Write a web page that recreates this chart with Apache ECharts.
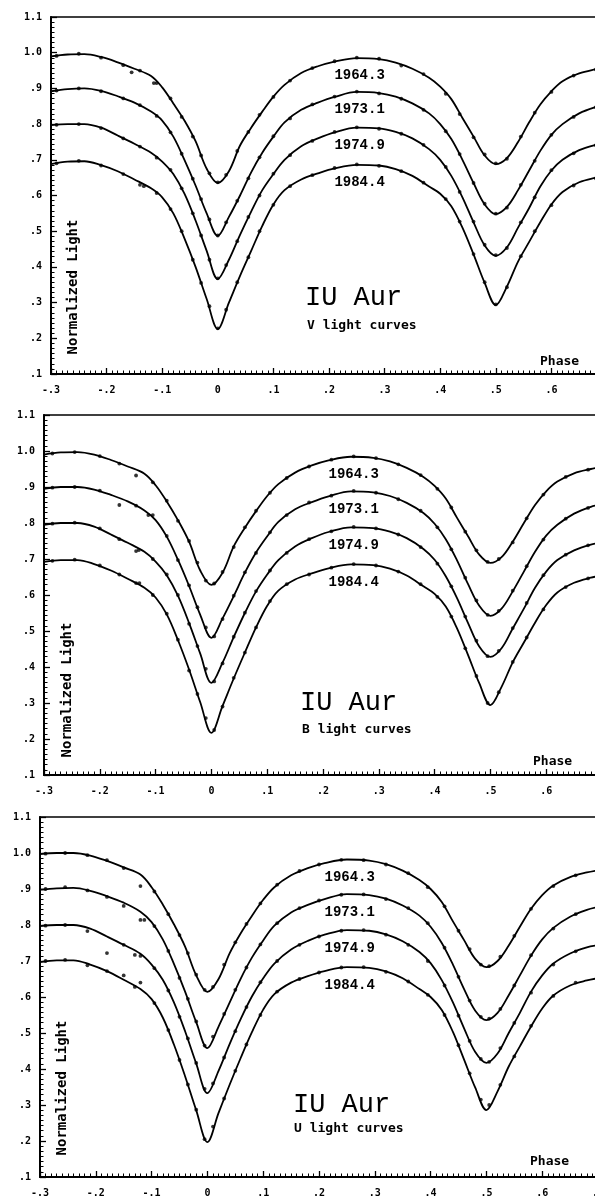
<!DOCTYPE html>
<html><head><meta charset="utf-8">
<script src="https://cdn.jsdelivr.net/npm/echarts@6/dist/echarts.min.js"></script>
<style>html,body{margin:0;padding:0;background:#fff}#c{width:595px;height:1204px}</style>
</head><body><div id="c"></div>
<script>
// ---------- data ----------
const years = ['1964.3', '1973.1', '1974.9', '1984.4'];
const bands = ['V', 'B', 'U'];
const xTickValues = [-0.3, -0.2, -0.1, 0, 0.1, 0.2, 0.3, 0.4, 0.5, 0.6, 0.7];
const yTickValues = [0.1, 0.2, 0.3, 0.4, 0.5, 0.6, 0.7, 0.8, 0.9, 1.0, 1.1];

// phases of the fitted light-curve knots
const curvePhase = [-0.30,-0.27,-0.24,-0.21,-0.18,-0.15,-0.12,-0.10,-0.08,-0.06,-0.04,-0.02,0,0.02,0.04,0.06,0.08,0.10,0.12,0.15,0.18,0.21,0.25,0.29,0.32,0.35,0.38,0.40,0.42,0.44,0.46,0.48,0.50,0.52,0.54,0.56,0.58,0.60,0.62,0.65,0.68,0.70];

// V fitted curves
const vCurve1964 = [.990,.995,.996,.988,.973,.955,.935,.903,.858,.810,.752,.675,.635,.668,.740,.790,.835,.877,.910,.943,.962,.975,.985,.982,.972,.955,.930,.905,.870,.817,.765,.712,.688,.705,.750,.805,.855,.892,.920,.942,.954,.960];
const vCurve1973 = [.892,.898,.900,.893,.878,.860,.835,.810,.765,.700,.628,.550,.487,.540,.600,.665,.720,.765,.805,.840,.860,.876,.890,.887,.877,.858,.830,.800,.758,.700,.635,.575,.548,.568,.615,.670,.725,.770,.800,.830,.848,.855];
const vCurve1974 = [.797,.800,.800,.790,.768,.745,.720,.695,.660,.605,.530,.445,.366,.420,.490,.555,.615,.660,.700,.738,.760,.777,.790,.788,.778,.760,.730,.700,.655,.595,.525,.460,.431,.455,.510,.565,.625,.670,.700,.727,.742,.748];
const vCurve1984 = [.688,.695,.696,.685,.668,.645,.620,.595,.550,.480,.400,.310,.226,.300,.375,.445,.515,.575,.615,.645,.662,.676,.686,.684,.674,.655,.625,.605,.570,.510,.435,.355,.293,.345,.415,.470,.525,.575,.610,.637,.650,.656];

// B fitted curves
const bCurve1964 = [.990,.996,.997,.990,.975,.957,.937,.905,.860,.808,.748,.668,.628,.662,.735,.787,.833,.875,.908,.940,.960,.974,.984,.981,.971,.953,.928,.903,.868,.815,.763,.712,.689,.705,.748,.800,.850,.888,.915,.938,.950,.956];
const bCurve1973 = [.895,.900,.900,.893,.878,.860,.835,.808,.762,.698,.625,.545,.481,.535,.597,.662,.718,.763,.803,.838,.858,.874,.888,.885,.875,.856,.828,.798,.755,.697,.630,.570,.542,.562,.610,.665,.720,.765,.795,.826,.845,.852];
const bCurve1974 = [.795,.800,.800,.790,.768,.745,.720,.693,.655,.598,.522,.437,.356,.412,.483,.550,.610,.657,.697,.735,.758,.775,.788,.786,.776,.758,.728,.698,.652,.592,.522,.457,.428,.452,.507,.562,.620,.665,.697,.724,.740,.746];
const bCurve1984 = [.692,.697,.697,.686,.668,.645,.620,.593,.546,.475,.393,.302,.217,.292,.368,.440,.510,.570,.612,.643,.660,.674,.685,.683,.673,.654,.624,.603,.568,.508,.433,.355,.294,.345,.413,.468,.523,.572,.607,.634,.648,.654];

// U fitted curves
const uCurve1964 = [.997,1.000,1.000,.993,.978,.960,.940,.905,.857,.802,.740,.660,.614,.650,.722,.778,.826,.870,.905,.938,.958,.972,.982,.979,.969,.951,.925,.900,.864,.810,.758,.706,.683,.700,.743,.795,.845,.883,.910,.933,.946,.952];
const uCurve1973 = [.898,.902,.903,.895,.880,.862,.837,.808,.760,.692,.615,.530,.458,.518,.585,.652,.710,.757,.798,.835,.856,.872,.886,.883,.873,.854,.826,.795,.750,.690,.622,.562,.536,.556,.605,.660,.715,.760,.792,.823,.842,.850];
const uCurve1974 = [.797,.800,.800,.790,.768,.745,.720,.690,.648,.585,.505,.415,.333,.395,.470,.540,.602,.652,.693,.732,.756,.773,.786,.784,.774,.755,.725,.694,.647,.585,.513,.447,.417,.443,.500,.556,.615,.660,.693,.721,.738,.744];
const uCurve1984 = [.697,.702,.702,.690,.672,.648,.622,.594,.543,.468,.380,.285,.197,.278,.357,.432,.503,.565,.608,.640,.658,.672,.683,.681,.671,.652,.622,.600,.564,.503,.426,.348,.286,.338,.407,.463,.518,.568,.604,.632,.646,.652];

// observed points (phase lists per panel, values per season)
const obsPhaseV = [-0.29,-0.25,-0.21,-0.17,-0.14,-0.11,-0.085,-0.065,-0.045,-0.03,-0.015,0,0.015,0.035,0.055,0.075,0.1,0.13,0.17,0.21,0.25,0.29,0.33,0.37,0.41,0.435,0.46,0.48,0.5,0.52,0.545,0.57,0.6,0.64,0.68];
const vObs1964 = [.991,.997,.986,.965,.950,.915,.872,.820,.765,.712,.662,.637,.658,.725,.778,.826,.876,.922,.957,.976,.986,.983,.964,.940,.885,.828,.763,.715,.690,.703,.765,.832,.890,.936,.953];
const vObs1973 = [.894,.900,.892,.872,.853,.823,.777,.717,.647,.590,.533,.488,.525,.585,.648,.707,.766,.816,.855,.877,.891,.886,.871,.840,.780,.716,.635,.577,.549,.566,.630,.697,.770,.820,.847];
const vObs1974 = [.798,.800,.789,.760,.737,.706,.672,.620,.550,.488,.420,.368,.405,.472,.540,.600,.661,.713,.753,.778,.791,.787,.773,.742,.680,.610,.527,.462,.433,.453,.525,.595,.671,.718,.741];
const vObs1984 = [.690,.697,.684,.660,.630,.607,.562,.500,.420,.355,.290,.228,.280,.357,.427,.500,.574,.626,.657,.677,.687,.683,.668,.636,.590,.527,.436,.357,.295,.343,.430,.500,.573,.628,.648];

const obsPhaseB = [-0.285,-0.245,-0.2,-0.165,-0.135,-0.105,-0.08,-0.06,-0.04,-0.025,-0.01,0.005,0.02,0.04,0.06,0.08,0.105,0.135,0.175,0.215,0.255,0.295,0.335,0.375,0.405,0.43,0.455,0.475,0.495,0.515,0.54,0.565,0.595,0.635,0.675];
const bObs1964 = [.993,.997,.986,.965,.932,.913,.862,.806,.750,.690,.640,.632,.664,.733,.788,.834,.884,.925,.957,.976,.985,.980,.963,.933,.895,.843,.776,.724,.692,.700,.746,.813,.879,.928,.948];
const bObs1973 = [.898,.900,.890,.850,.848,.822,.764,.697,.627,.566,.510,.485,.533,.598,.663,.717,.774,.822,.857,.876,.889,.884,.866,.834,.788,.727,.648,.585,.545,.556,.612,.680,.754,.812,.842];
const bObs1974 = [.798,.801,.785,.755,.722,.700,.657,.600,.520,.458,.395,.360,.410,.484,.551,.611,.668,.717,.755,.777,.789,.785,.768,.733,.687,.624,.540,.473,.430,.445,.508,.578,.655,.712,.738];
const bObs1984 = [.695,.698,.682,.657,.633,.600,.548,.476,.390,.325,.258,.225,.290,.370,.440,.510,.583,.630,.657,.676,.686,.682,.665,.630,.595,.540,.452,.375,.300,.330,.414,.482,.560,.622,.646];

const obsPhaseU = [-0.29,-0.255,-0.215,-0.18,-0.15,-0.12,-0.095,-0.07,-0.05,-0.035,-0.02,-0.005,0.01,0.03,0.05,0.07,0.095,0.125,0.165,0.2,0.24,0.28,0.32,0.36,0.395,0.425,0.45,0.47,0.49,0.505,0.525,0.55,0.58,0.62,0.66];
const uObs1964 = [.998,1.000,.994,.980,.958,.908,.893,.830,.772,.722,.662,.620,.628,.690,.752,.803,.860,.912,.950,.968,.981,.980,.968,.944,.905,.852,.784,.733,.690,.686,.712,.770,.845,.908,.938];
const uObs1973 = [.900,.905,.896,.878,.853,.814,.797,.728,.653,.595,.532,.465,.490,.553,.620,.682,.746,.805,.847,.868,.884,.885,.872,.847,.805,.737,.656,.590,.545,.540,.567,.632,.716,.790,.830];
const uObs1974 = [.798,.800,.783,.722,.745,.714,.680,.618,.545,.485,.417,.345,.360,.432,.505,.572,.641,.700,.745,.768,.784,.786,.773,.745,.700,.632,.548,.478,.428,.420,.458,.528,.612,.690,.727];
const uObs1984 = [.700,.703,.688,.672,.660,.640,.583,.508,.425,.357,.287,.205,.240,.318,.395,.468,.550,.615,.650,.668,.682,.683,.670,.643,.606,.550,.466,.388,.315,.300,.356,.435,.520,.603,.640];

// a few extra scattered observations
const extraV = [[-0.115, 0.915], [-0.133, 0.626], [-0.155, 0.945]];
const extraB = [[-0.13, 0.725], [-0.129, 0.633], [-0.113, 0.822]];
const extraU = [[-0.13, 0.717], [-0.13, 0.628], [-0.113, 0.814]];

// ---------- chart ----------
const panels = [
  {band: 'V', curves: [vCurve1964, vCurve1973, vCurve1974, vCurve1984], obsPhase: obsPhaseV, obs: [vObs1964, vObs1973, vObs1974, vObs1984], extra: extraV,
   grid: {left: 51, top: 17, width: 556, height: 357}, title: [305, 298], sub: [307, 326], phase: [540, 362], ylab: [73, 287]},
  {band: 'B', curves: [bCurve1964, bCurve1973, bCurve1974, bCurve1984], obsPhase: obsPhaseB, obs: [bObs1964, bObs1973, bObs1974, bObs1984], extra: extraB,
   grid: {left: 44, top: 415, width: 558, height: 360}, title: [300, 703], sub: [302, 730], phase: [533, 762], ylab: [67, 690]},
  {band: 'U', curves: [uCurve1964, uCurve1973, uCurve1974, uCurve1984], obsPhase: obsPhaseU, obs: [uObs1964, uObs1973, uObs1974, uObs1984], extra: extraU,
   grid: {left: 40, top: 817, width: 558, height: 360}, title: [293, 1105], sub: [294, 1129], phase: [530, 1162], ylab: [62, 1088]}
];

const xFmt = v => { const r = Math.round(v * 10); if (r === 0) return '0'; return (r < 0 ? '-' : '') + '.' + Math.abs(r); };
const yFmt = v => { const r = Math.round(v * 10); return r >= 10 ? (r / 10).toFixed(1) : '.' + r; };
const tickFont = {fontFamily: 'DejaVu Sans Mono', fontWeight: 'bold', fontSize: 10, color: '#000'};
const peakIdx = curvePhase.indexOf(0.25);

const grids = [], xAxes = [], yAxes = [], series = [], graphics = [];
panels.forEach((p, i) => {
  grids.push(Object.assign({show: true, borderColor: '#000', borderWidth: 1.5, backgroundColor: 'transparent',
    containLabel: false, outerBoundsMode: 'none'}, p.grid));
  xAxes.push({
    gridIndex: i, type: 'value', min: xTickValues[0], max: xTickValues[xTickValues.length - 1], interval: 0.1,
    axisLine: {show: true, onZero: false, lineStyle: {color: '#000', width: 2}},
    axisTick: {show: true, inside: true, length: 6, lineStyle: {color: '#000', width: 1.3}},
    minorTick: {show: true, splitNumber: 10, length: 3.5, lineStyle: {color: '#000', width: 1}},
    splitLine: {show: false}, minorSplitLine: {show: false},
    axisLabel: Object.assign({formatter: xFmt, margin: 11, showMaxLabel: true, showMinLabel: true}, tickFont)
  });
  yAxes.push({
    gridIndex: i, type: 'value', min: yTickValues[0], max: yTickValues[yTickValues.length - 1], interval: 0.1,
    axisLine: {show: true, onZero: false, lineStyle: {color: '#000', width: 2}},
    axisTick: {show: true, inside: true, length: 6, lineStyle: {color: '#000', width: 1.3}},
    minorTick: {show: true, splitNumber: 7, length: 3.5, lineStyle: {color: '#000', width: 1}},
    splitLine: {show: false}, minorSplitLine: {show: false},
    axisLabel: Object.assign({formatter: yFmt, margin: 9}, tickFont)
  });
  p.curves.forEach((c, k) => {
    series.push({type: 'line', name: p.band + ' ' + years[k], xAxisIndex: i, yAxisIndex: i,
      data: curvePhase.map((x, j) => [x, c[j]]), smooth: 0.35, showSymbol: false, symbol: 'none',
      lineStyle: {color: '#000', width: 1.8}, silent: true, animation: false, z: 2});
  });
  p.obs.forEach((o, k) => {
    series.push({type: 'scatter', name: p.band + ' obs ' + years[k], xAxisIndex: i, yAxisIndex: i,
      data: p.obsPhase.map((x, j) => [x, o[j]]), symbolSize: 3.8, itemStyle: {color: '#000'}, silent: true, animation: false, z: 3});
  });
  series.push({type: 'scatter', name: p.band + ' extra', xAxisIndex: i, yAxisIndex: i,
    data: p.extra, symbolSize: 3.8, itemStyle: {color: '#000'}, silent: true, animation: false, z: 3});
  series.push({type: 'scatter', name: p.band + ' labels', xAxisIndex: i, yAxisIndex: i,
    data: years.map((y, k) => ({name: y, value: [0.255, p.curves[k][peakIdx] - 0.05]})),
    symbolSize: 1, itemStyle: {color: 'rgba(255,255,255,0)'}, silent: true, animation: false, z: 4,
    label: {show: true, position: 'inside', formatter: '{b}', fontFamily: 'Liberation Mono', fontWeight: 'bold', fontSize: 14,
      color: '#000', opacity: 1, textBorderWidth: 0, textBorderColor: 'transparent'}});
  graphics.push({type: 'text', x: p.title[0], y: p.title[1], silent: true,
    style: {text: 'IU Aur', fontFamily: 'Liberation Mono', fontSize: 27, fill: '#000', verticalAlign: 'middle', align: 'left'}});
  graphics.push({type: 'text', x: p.sub[0], y: p.sub[1], silent: true,
    style: {text: p.band + ' light curves', fontFamily: 'DejaVu Sans Mono', fontWeight: 'bold', fontSize: 13, fill: '#000', verticalAlign: 'middle', align: 'left'}});
  graphics.push({type: 'text', x: p.phase[0], y: p.phase[1], silent: true,
    style: {text: 'Phase', fontFamily: 'DejaVu Sans Mono', fontWeight: 'bold', fontSize: 13, fill: '#000', verticalAlign: 'middle', align: 'left'}});
  graphics.push({type: 'text', x: p.ylab[0], y: p.ylab[1], rotation: Math.PI / 2, silent: true,
    style: {text: 'Normalized Light', fontFamily: 'DejaVu Sans Mono', fontWeight: 'bold', fontSize: 14, fill: '#000', verticalAlign: 'middle', align: 'center'}});
});

const chart = echarts.init(document.getElementById('c'), null, {renderer: 'canvas'});
chart.setOption({
  animation: false,
  backgroundColor: '#fff',
  grid: grids, xAxis: xAxes, yAxis: yAxes, series: series, graphic: graphics
});
</script>
</body></html>
